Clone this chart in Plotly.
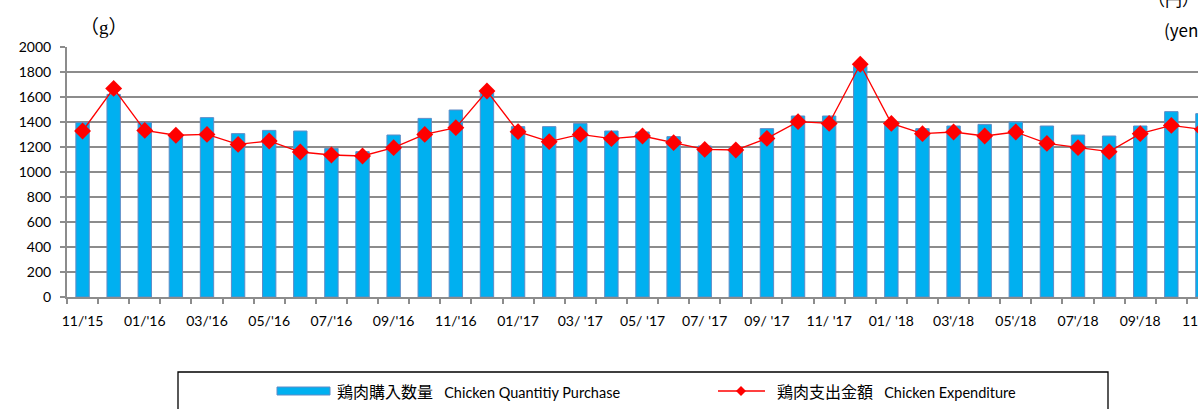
import plotly.graph_objects as go

months = ["11/'15", "12/'15", "01/'16", "02/'16", "03/'16", "04/'16", "05/'16", "06/'16",
          "07/'16", "08/'16", "09/'16", "10/'16", "11/'16", "12/'16", "01/'17", "02/'17",
          "03/'17", "04/'17", "05/'17", "06/'17", "07/'17", "08/'17", "09/'17", "10/'17",
          "11/'17", "12/'17", "01/'18", "02/'18", "03/'18", "04/'18", "05/'18", "06/'18",
          "07/'18", "08/'18", "09/'18", "10/'18", "11/'18"]

tick_labels = ["11/'15", "01/'16", "03/'16", "05/'16", "07/'16", "09/'16", "11/'16",
               "01/'17", "03/ '17", "05/ '17", "07/ '17", "09/ '17", "11/ '17",
               "01/ '18", "03'/18", "05'/18", "07'/18", "09'/18", "11'/18"]

quantity_g = [1395, 1621, 1395, 1300, 1435, 1307, 1333, 1328, 1189, 1163,
              1296, 1429, 1496, 1635, 1363, 1363, 1389, 1328, 1320, 1283,
              1208, 1195, 1347, 1448, 1448, 1845, 1381, 1347, 1368, 1381,
              1400, 1368, 1296, 1288, 1368, 1483, 1467]

expenditure_yen = [1328, 1669, 1333, 1294, 1301, 1221, 1248, 1160, 1136, 1128,
                   1195, 1301, 1355, 1648, 1323, 1243, 1301, 1267, 1288, 1235,
                   1181, 1176, 1269, 1403, 1389, 1862, 1389, 1307, 1320, 1288,
                   1320, 1229, 1195, 1163, 1307, 1373, 1341]

name_bar_jp, name_bar_en = "鶏肉購入数量", "Chicken Quantitiy Purchase"
name_line_jp, name_line_en = "鶏肉支出金額", "Chicken Expenditure"

GRID = "#8c8c8c"
BAR = "#00B0F0"
BAR_EDGE = "#5E8BC6"
RED = "#FF0000"
FONT = "Lato, 'Noto Sans CJK JP', sans-serif"
CJK = "'Noto Sans CJK JP', sans-serif"

# the original chart is wider than the 1198 px window and is cropped on the right
ML, MT, MB, MR = 67, 47, 112, 60
cat_px = 31.1
n = len(months)
W = int(round(ML + MR + n * cat_px))
H = 409

fig = go.Figure()
fig.add_trace(go.Bar(x=months, y=quantity_g, name=f"{name_bar_jp} {name_bar_en}",
                     width=0.43,
                     marker=dict(color=BAR, line=dict(color=BAR_EDGE, width=1)),
                     showlegend=False))
fig.add_trace(go.Scatter(x=months, y=expenditure_yen, name=f"{name_line_jp} {name_line_en}",
                         yaxis="y2", mode="lines+markers", cliponaxis=False,
                         line=dict(color=RED, width=1.3),
                         marker=dict(symbol="diamond", size=13, color=RED),
                         showlegend=False))

ticktext = []
k = 0
for i, m in enumerate(months):
    if i % 2 == 0:
        ticktext.append(tick_labels[k])
        k += 1
    else:
        ticktext.append("")

fig.update_layout(
    width=W, height=H,
    margin=dict(l=ML, r=MR, t=MT, b=MB, pad=0, autoexpand=False),
    paper_bgcolor="white", plot_bgcolor="white",
    font=dict(family=FONT, size=14, color="black"),
    xaxis=dict(type="category", categoryorder="array", categoryarray=months,
               range=[-0.5, n - 0.5], tickmode="array", tickvals=months, ticktext=ticktext,
               tickangle=0, tickson="boundaries", ticks="outside", ticklen=5,
               tickcolor=GRID, tickwidth=1.5, showgrid=False, showline=True,
               linecolor=GRID, linewidth=2, tickfont=dict(size=14),
               ticklabelstandoff=10, automargin=False),
    yaxis=dict(range=[0, 2000], dtick=200, showgrid=True, gridcolor=GRID, gridwidth=2,
               showline=True, linecolor=GRID, linewidth=2, ticks="outside", ticklen=5,
               tickcolor=GRID, tickwidth=2, zeroline=False, tickfont=dict(size=14),
               ticklabelstandoff=6, automargin=False),
    yaxis2=dict(range=[0, 2000], dtick=200, overlaying="y", side="right", showgrid=False,
                showticklabels=False, showline=True, linecolor=GRID, linewidth=2,
                ticks="outside", ticklen=5, tickcolor=GRID, zeroline=False,
                automargin=False),
)


def px_x(p):
    return (p - ML) / (W - ML - MR)


def px_y(p):
    return (H - MB - p) / (H - MT - MB)


# unit labels
fig.add_annotation(x=px_x(104), xref="paper", y=px_y(28), yref="paper",
                   xanchor="center", yanchor="middle", text="（g）", showarrow=False,
                   font=dict(family="'Liberation Serif', 'Noto Sans CJK JP', serif", size=19))
fig.add_annotation(x=1.0, xref="paper", y=px_y(-2), yref="paper", xanchor="left",
                   yanchor="middle", xshift=-72, text="（円）", showarrow=False,
                   font=dict(family=CJK, size=17))
fig.add_annotation(x=1.0, xref="paper", y=px_y(30), yref="paper", xanchor="left",
                   yanchor="middle", xshift=-56, text="(yen)", showarrow=False,
                   font=dict(family=CJK, size=17))

# legend box drawn as shapes
fig.add_shape(type="rect", xref="paper", yref="paper",
              x0=px_x(178), x1=px_x(1108), y0=px_y(372), y1=px_y(420),
              line=dict(color="black", width=1.3), fillcolor="rgba(0,0,0,0)")
fig.add_shape(type="rect", xref="paper", yref="paper",
              x0=px_x(277), x1=px_x(330), y0=px_y(387), y1=px_y(395),
              line=dict(color=BAR_EDGE, width=1), fillcolor=BAR)
fig.add_annotation(x=px_x(335), xref="paper", y=px_y(391), yref="paper",
                   xanchor="left", yanchor="middle", showarrow=False,
                   text=f'<span style="font-size:16px">{name_bar_jp}</span>'
                        f'&nbsp;&nbsp;&nbsp;{name_bar_en}',
                   font=dict(size=14.5))
fig.add_shape(type="line", xref="paper", yref="paper",
              x0=px_x(718), x1=px_x(765), y0=px_y(391), y1=px_y(391),
              line=dict(color=RED, width=1.3))
cx, cy = 741, 391
fig.add_shape(type="path", xref="paper", yref="paper",
              path=f"M {px_x(cx-5)} {px_y(cy)} L {px_x(cx)} {px_y(cy-5)} "
                   f"L {px_x(cx+5)} {px_y(cy)} L {px_x(cx)} {px_y(cy+5)} Z",
              line=dict(color=RED, width=0), fillcolor=RED)
fig.add_annotation(x=px_x(775), xref="paper", y=px_y(391), yref="paper",
                   xanchor="left", yanchor="middle", showarrow=False,
                   text=f'<span style="font-size:16px">{name_line_jp}</span>'
                        f'&nbsp;&nbsp;&nbsp;{name_line_en}',
                   font=dict(size=14.5))

fig.write_html("out.html", config={"displayModeBar": False},
               post_script="document.body.style.margin='0';"
                           "document.body.style.overflow='hidden';")
